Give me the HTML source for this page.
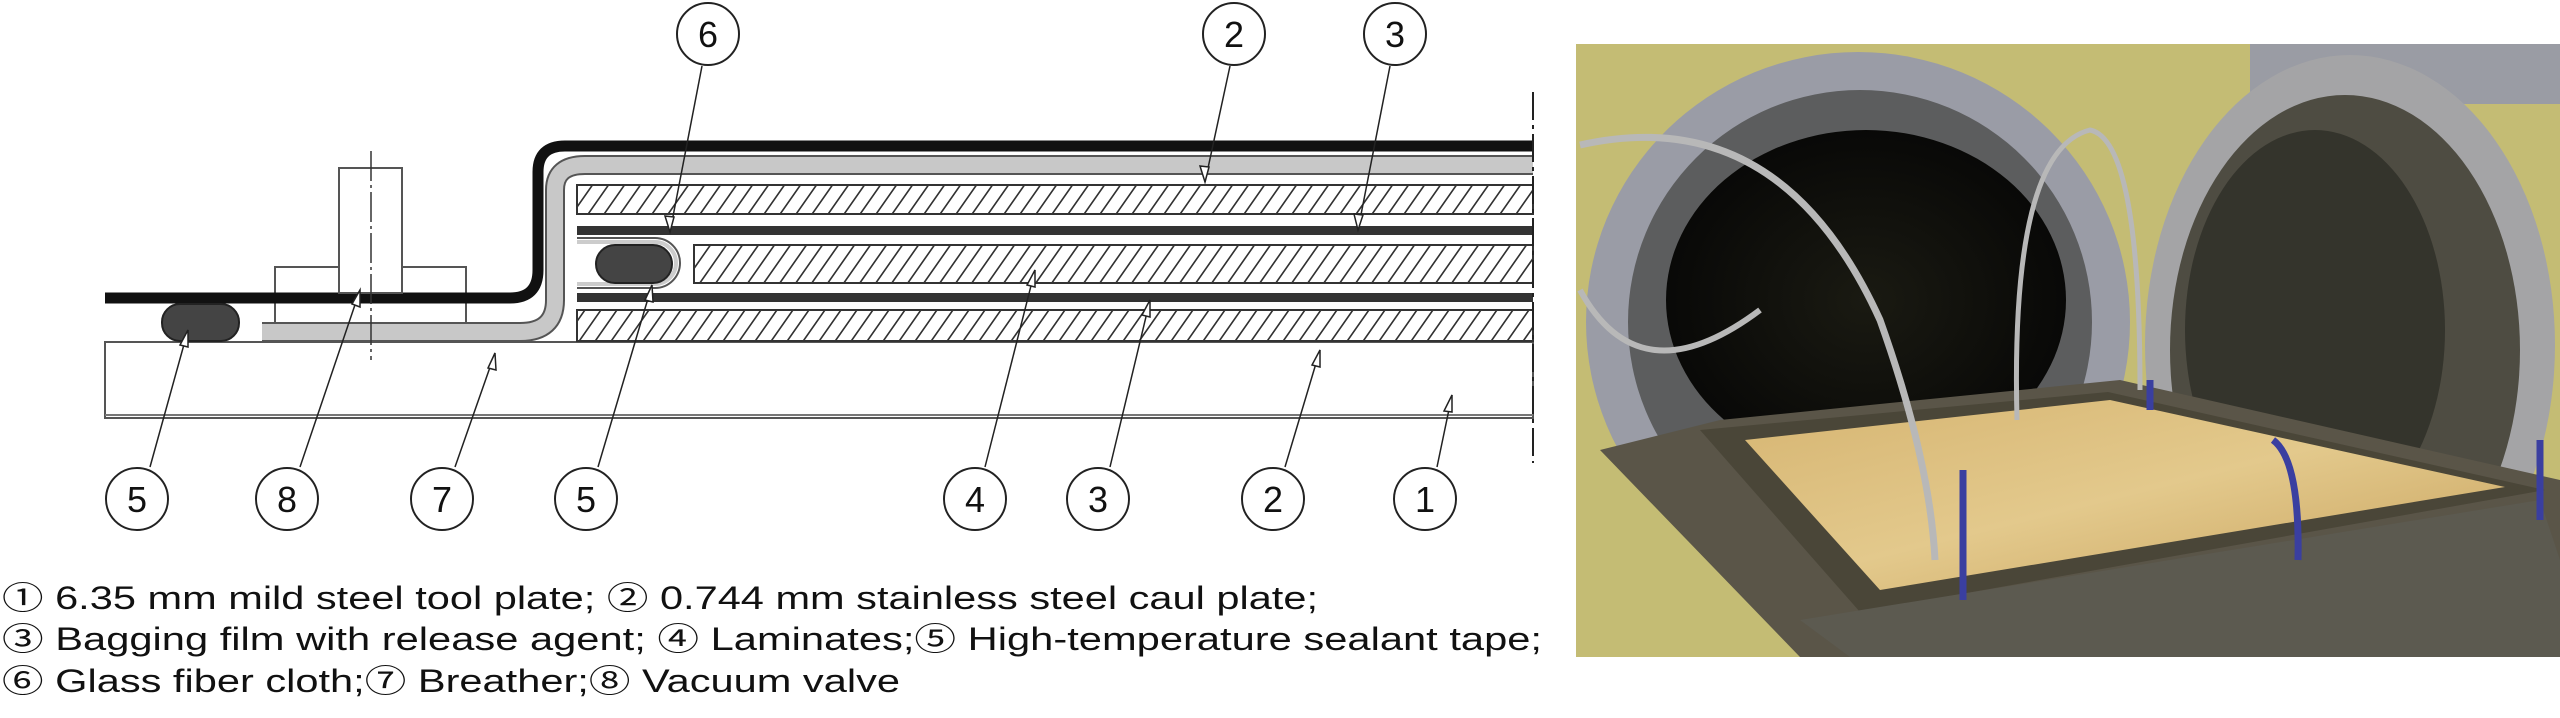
<!DOCTYPE html>
<html><head><meta charset="utf-8"><style>
html,body{margin:0;padding:0;background:#fff;}
svg{display:block}
text{font-family:"Liberation Sans","Noto Sans CJK SC",sans-serif;}
</style></head><body>
<svg width="2560" height="718" viewBox="0 0 2560 718" xmlns="http://www.w3.org/2000/svg">
<defs>
<pattern id="h" patternUnits="userSpaceOnUse" width="16" height="30" patternTransform="skewX(-35)">
<rect width="16" height="30" fill="#fff"/><line x1="2" y1="0" x2="2" y2="30" stroke="#333" stroke-width="2"/>
</pattern>
<radialGradient id="dk" cx="0.5" cy="0.5" r="0.6"><stop offset="0" stop-color="#1a1a12"/><stop offset="1" stop-color="#050505"/></radialGradient>
<linearGradient id="pl" x1="0" y1="0" x2="1" y2="1"><stop offset="0" stop-color="#d6b572"/><stop offset="0.5" stop-color="#e3c98c"/><stop offset="1" stop-color="#c7a15c"/></linearGradient>
</defs>

<rect x="105" y="342" width="1428" height="76" fill="#fff" stroke="#555" stroke-width="2"/>
<line x1="105" y1="415" x2="1533" y2="415" stroke="#777" stroke-width="2"/>
<rect x="577" y="310" width="956" height="31" fill="url(#h)" stroke="#333" stroke-width="2"/>
<rect x="577" y="293" width="956" height="9" fill="#333"/>
<rect x="694" y="245" width="839" height="38" fill="url(#h)" stroke="#333" stroke-width="2"/>
<rect x="577" y="226" width="956" height="9" fill="#333"/>
<path d="M577 238 H655 A23 23 0 0 1 655 288 H577" fill="none" stroke="#555" stroke-width="2"/>
<path d="M577 242 H655 A19 19 0 0 1 655 284 H577" fill="none" stroke="#ccc" stroke-width="4"/>
<rect x="596" y="245" width="76" height="38" rx="19" fill="#444" stroke="#222" stroke-width="2"/>
<rect x="577" y="185" width="956" height="29" fill="url(#h)" stroke="#333" stroke-width="2"/>
<path d="M262 332 H520 Q555 332 555 300 V190 Q555 165 585 165 H1533" fill="none" stroke="#555" stroke-width="20"/>
<path d="M262 332 H520 Q555 332 555 300 V190 Q555 165 585 165 H1533" fill="none" stroke="#c8c8c8" stroke-width="16"/>
<rect x="275" y="267" width="191" height="56" fill="#fff" stroke="#555" stroke-width="2"/>
<path d="M105 298 H510 Q538 298 538 270 V172 Q538 146 565 146 H1533" fill="none" stroke="#111" stroke-width="11"/>
<rect x="339" y="168" width="63" height="125" fill="#fff" stroke="#555" stroke-width="2"/>
<line x1="371" y1="151" x2="371" y2="360" stroke="#333" stroke-width="1.5" stroke-dasharray="30 4 3 4"/>
<rect x="162" y="304" width="77" height="37" rx="18" fill="#444" stroke="#222" stroke-width="2"/>
<line x1="1533" y1="92" x2="1533" y2="463" stroke="#222" stroke-width="2" stroke-dasharray="28 5 4 5"/>

<g stroke="#222" stroke-width="1.5" fill="#fff">
<line x1="702" y1="66" x2="670" y2="232"/><line x1="1230" y1="66" x2="1205" y2="182"/><line x1="1390" y1="66" x2="1358" y2="230"/>
<line x1="150" y1="467" x2="188" y2="330"/><line x1="300" y1="467" x2="360" y2="290"/><line x1="455" y1="467" x2="495" y2="353"/>
<line x1="598" y1="467" x2="652" y2="285"/><line x1="985" y1="467" x2="1035" y2="270"/><line x1="1110" y1="467" x2="1150" y2="300"/>
<line x1="1285" y1="467" x2="1320" y2="350"/><line x1="1437" y1="467" x2="1452" y2="395"/>
</g>
<g fill="#fff" stroke="#222" stroke-width="1.5">
<path d="M670 232 l-5 -16 l9 1z"/><path d="M1205 182 l-5 -16 l9 1z"/><path d="M1358 230 l-4 -16 l9 1z"/>
<path d="M188 330 l0 17 l-8 -2z"/><path d="M360 290 l0 17 l-8 -3z"/><path d="M495 353 l1 17 l-8 -2z"/>
<path d="M652 285 l1 17 l-8 -2z"/><path d="M1035 270 l0 17 l-8 -2z"/><path d="M1150 300 l0 17 l-8 -2z"/>
<path d="M1320 350 l0 17 l-8 -2z"/><path d="M1452 395 l0 17 l-8 -1z"/>
</g>
<g fill="#fff" stroke="#222" stroke-width="2">
<circle cx="708" cy="34" r="31"/><circle cx="1234" cy="34" r="31"/><circle cx="1395" cy="34" r="31"/>
<circle cx="137" cy="499" r="31"/><circle cx="287" cy="499" r="31"/><circle cx="442" cy="499" r="31"/><circle cx="586" cy="499" r="31"/>
<circle cx="975" cy="499" r="31"/><circle cx="1098" cy="499" r="31"/><circle cx="1273" cy="499" r="31"/><circle cx="1425" cy="499" r="31"/>
</g>
<g font-size="36" text-anchor="middle" fill="#111">
<text x="708" y="47">6</text><text x="1234" y="47">2</text><text x="1395" y="47">3</text>
<text x="137" y="512">5</text><text x="287" y="512">8</text><text x="442" y="512">7</text><text x="586" y="512">5</text>
<text x="975" y="512">4</text><text x="1098" y="512">3</text><text x="1273" y="512">2</text><text x="1425" y="512">1</text>
</g>
<g font-size="32" fill="#111">
<text x="2" y="609" textLength="1316" lengthAdjust="spacingAndGlyphs">① 6.35 mm mild steel tool plate; ② 0.744 mm stainless steel caul plate;</text>
<text x="2" y="650" textLength="1540" lengthAdjust="spacingAndGlyphs">③ Bagging film with release agent; ④ Laminates;⑤ High-temperature sealant tape;</text>
<text x="2" y="692" textLength="898" lengthAdjust="spacingAndGlyphs">⑥ Glass fiber cloth;⑦ Breather;⑧ Vacuum valve</text>
</g>

<svg x="1576" y="44" width="984" height="613" viewBox="1576 44 984 613">
<rect x="1576" y="44" width="984" height="613" fill="#c4bc74"/>
<rect x="2250" y="44" width="310" height="60" fill="#9a9ca4"/>
<ellipse cx="1858" cy="322" rx="272" ry="270" fill="#9a9ca6"/>
<ellipse cx="1860" cy="322" rx="232" ry="232" fill="#5c5d5e"/>
<ellipse cx="1866" cy="300" rx="200" ry="170" fill="url(#dk)"/>
<ellipse cx="2350" cy="345" rx="205" ry="290" fill="#a4a4a6"/>
<ellipse cx="2345" cy="350" rx="175" ry="255" fill="#4e4c42"/>
<ellipse cx="2315" cy="330" rx="130" ry="200" fill="#34342c"/>
<polygon points="1600,450 1720,420 2120,380 2560,480 2560,657 1800,657" fill="#5a5548"/>
<polygon points="1700,430 2108,392 2545,490 1860,612" fill="#4a4638"/>
<polygon points="1745,440 2110,400 2505,487 1880,590" fill="url(#pl)"/>
<polygon points="1800,620 2540,500 2560,560 2560,657 1850,657" fill="#5c5a50"/>
<path d="M1580 145 Q1780 100 1880 320 Q1930 460 1935 560" fill="none" stroke="#b8b8b8" stroke-width="7"/>
<path d="M1580 290 Q1640 400 1760 310" fill="none" stroke="#b8b8b8" stroke-width="6"/>
<path d="M2017 420 Q2010 150 2090 130 Q2140 140 2140 390" fill="none" stroke="#b8b8b8" stroke-width="5"/>
<g stroke="#3a3fa0" stroke-width="7" fill="none">
<path d="M1963 470 V600"/><path d="M2273 440 Q2300 460 2298 560"/><path d="M2150 380 V410"/><path d="M2540 440 V520"/>
</g>
</svg>
</svg>
</body></html>
